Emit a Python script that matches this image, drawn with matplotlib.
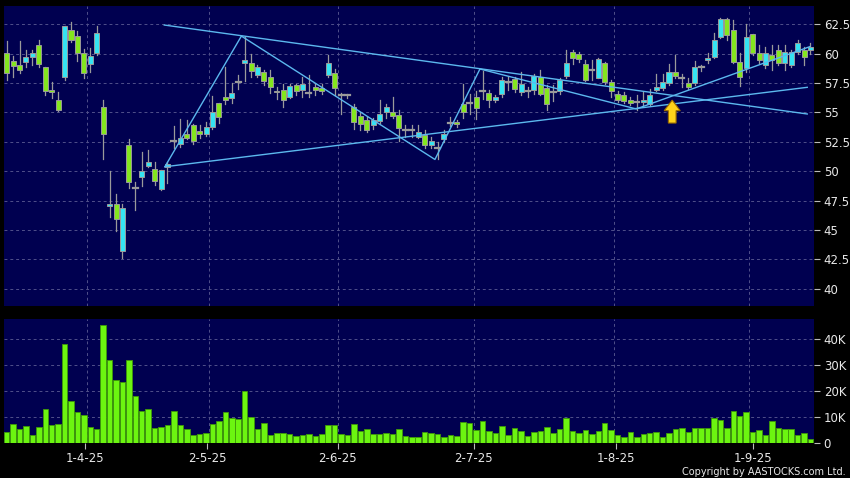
import numpy as np
import matplotlib
matplotlib.use('Agg')
import matplotlib.pyplot as plt
from matplotlib.patches import Rectangle, Polygon

# daily candles (index 0 = first day shown)
opens = [60.1, 59.35, 59.0, 59.3, 59.7, 60.7, 58.85, 56.9, 56.1, 58.05,
         62.0, 61.5, 60.05, 59.1, 60.05, 55.5, 47.0, 47.2, 43.2, 52.25,
         48.55, 49.5, 50.45, 50.15, 48.5, 50.35, 52.6, 52.3, 53.15, 53.9,
         53.45, 53.2, 53.8, 55.8, 56.35, 56.2, 57.55, 59.25, 59.2, 58.15,
         58.45, 58.0, 56.85, 56.95, 56.35, 57.3, 56.9, 56.65, 57.15, 57.1,
         58.15, 58.4, 56.45, 56.45, 55.45, 54.7, 54.35, 53.9, 54.25, 55.0,
         55.0, 54.8, 53.5, 53.5, 52.95, 53.05, 52.25, 51.95, 52.7, 54.1,
         54.15, 55.75, 55.8, 56.3, 56.8, 56.65, 56.05, 56.55, 57.6, 57.85,
         56.7, 56.8, 56.9, 58.0, 57.1, 56.75, 56.8, 58.1, 60.15, 60.0,
         59.15, 58.6, 57.95, 59.25, 57.55, 56.6, 56.5, 56.05, 55.9, 55.85,
         55.75, 56.95, 57.1, 57.5, 58.45, 57.9, 57.5, 57.5, 58.9, 59.45,
         59.75, 61.45, 62.95, 62.0, 59.3, 58.75, 61.65, 60.05, 59.05, 59.85,
         60.3, 59.2, 59.05, 60.15, 60.3, 60.35]
highs = [61.1, 59.8, 61.1, 60.3, 60.3, 61.2, 58.9, 57.6, 56.7, 62.4,
         62.7, 61.9, 60.4, 60.45, 62.4, 56.05, 50.0, 48.05, 47.2, 52.7,
         49.05, 51.65, 51.8, 50.8, 50.1, 50.8, 53.85, 54.45, 54.4, 54.0,
         53.95, 54.2, 56.4, 55.8, 58.85, 57.5, 58.2, 61.45, 60.0, 59.05,
         58.6, 58.6, 57.15, 57.45, 57.45, 57.45, 58.0, 58.15, 57.45, 57.45,
         59.85, 58.7, 56.65, 56.6, 55.75, 55.05, 54.6, 54.55, 56.1, 55.75,
         56.3, 55.2, 53.9, 53.9, 53.9, 53.5, 52.9, 52.5, 53.55, 54.65,
         54.4, 57.4, 56.6, 56.8, 58.5, 56.9, 56.45, 58.0, 58.0, 58.0,
         58.45, 57.15, 58.3, 58.65, 57.3, 57.3, 57.9, 60.3, 60.3, 60.15,
         59.45, 59.45, 59.6, 59.3, 57.75, 56.8, 56.75, 56.3, 56.45, 56.75,
         57.0, 58.3, 58.3, 59.15, 59.85, 58.3, 57.9, 59.4, 59.0, 60.1,
         61.8, 63.05, 63.0, 62.9, 60.05, 62.5, 61.7, 60.75, 60.6, 60.75,
         60.75, 60.75, 60.3, 61.2, 60.6, 60.9]
lows = [57.8, 58.05, 58.4, 58.9, 59.05, 58.9, 56.5, 56.2, 55.15, 57.8,
        61.0, 59.4, 57.9, 58.45, 59.9, 51.0, 46.1, 44.95, 42.6, 48.55,
        46.7, 48.7, 50.4, 48.85, 48.4, 49.0, 52.0, 52.1, 52.7, 52.35,
        52.8, 53.0, 53.6, 54.1, 55.7, 55.8, 57.0, 57.7, 58.05, 58.0,
        57.35, 56.65, 56.15, 55.5, 56.2, 56.45, 56.3, 56.3, 56.45, 56.6,
        58.0, 56.45, 54.9, 56.25, 53.6, 53.5, 53.35, 53.6, 54.1, 54.55,
        54.5, 52.6, 52.95, 52.95, 52.8, 51.95, 51.95, 51.05, 52.5, 53.85,
        53.8, 54.55, 54.9, 54.45, 56.15, 55.45, 55.9, 56.3, 56.9, 56.75,
        56.45, 56.3, 56.6, 56.45, 55.2, 56.0, 56.6, 57.9, 59.15, 59.3,
        57.65, 57.75, 57.9, 57.4, 56.3, 55.9, 55.8, 55.6, 55.25, 55.6,
        55.6, 56.8, 56.9, 57.3, 57.9, 57.2, 57.0, 57.3, 58.5, 59.2,
        59.6, 61.3, 61.2, 59.2, 57.25, 58.45, 59.9, 59.2, 58.8, 58.65,
        59.0, 58.6, 58.9, 60.0, 59.05, 60.0]
closes = [58.4, 58.95, 58.65, 59.7, 60.1, 59.1, 56.85, 56.7, 55.25, 62.35,
          61.2, 60.05, 58.4, 59.8, 61.8, 53.15, 47.2, 45.95, 46.85, 49.05,
          48.5, 50.0, 50.8, 49.2, 50.1, 50.6, 52.6, 52.8, 52.85, 52.6,
          53.2, 53.8, 55.05, 54.65, 56.1, 56.65, 57.55, 59.5, 58.55, 58.85,
          57.7, 57.15, 56.7, 56.1, 57.25, 56.85, 57.45, 56.65, 56.95, 56.8,
          59.25, 57.1, 56.4, 56.45, 54.15, 54.05, 53.5, 54.35, 54.9, 55.5,
          54.7, 53.65, 53.5, 53.5, 53.35, 52.25, 52.6, 51.95, 53.15, 54.1,
          54.0, 55.0, 55.8, 55.4, 56.8, 56.05, 56.3, 57.75, 57.6, 57.0,
          57.45, 56.8, 58.1, 56.6, 55.7, 56.75, 57.75, 59.25, 59.65, 59.55,
          57.8, 58.6, 59.55, 57.6, 56.8, 56.05, 55.95, 55.8, 55.9, 56.05,
          56.5, 57.2, 57.6, 58.45, 58.1, 57.9, 57.2, 58.9, 58.9, 59.65,
          61.2, 62.95, 61.6, 59.3, 58.05, 61.45, 60.05, 59.5, 60.05, 59.5,
          59.2, 60.15, 60.15, 60.9, 59.75, 60.6]
# volume in thousands of shares
volume_k = [4.5, 7.4, 5.6, 6.8, 3.2, 6.1, 13.0, 7.0, 7.5, 38.1,
            16.2, 12.1, 11.0, 6.4, 5.5, 45.4, 31.8, 24.4, 23.5, 31.9,
            18.0, 12.4, 13.2, 6.0, 6.4, 7.0, 12.4, 6.9, 5.4, 3.1,
            3.6, 4.0, 7.4, 8.4, 12.0, 9.7, 9.3, 20.1, 10.0, 5.4,
            7.8, 3.2, 3.8, 4.0, 3.7, 2.9, 3.1, 3.5, 2.7, 3.6,
            7.2, 7.2, 3.6, 3.2, 7.3, 4.6, 5.4, 3.6, 3.6, 4.1,
            3.7, 5.6, 2.9, 2.6, 2.3, 4.2, 3.8, 3.5, 2.3, 3.2,
            2.8, 8.1, 7.9, 5.1, 8.4, 4.6, 4.1, 6.5, 3.1, 6.0,
            4.7, 2.9, 4.5, 4.6, 6.1, 4.1, 5.6, 9.6, 4.9, 3.8,
            5.1, 3.5, 4.6, 7.7, 5.1, 3.2, 2.6, 4.5, 2.3, 3.6,
            4.1, 4.2, 2.6, 4.1, 5.5, 5.9, 4.3, 5.8, 5.8, 6.0,
            9.6, 8.9, 5.8, 12.5, 10.5, 11.9, 4.2, 5.0, 3.2, 8.6,
            6.0, 5.4, 5.4, 3.1, 3.8, 1.8]

date_labels = ['1-4-25', '2-5-25', '2-6-25', '2-7-25', '1-8-25', '1-9-25']
date_ticks = [12.1, 31.2, 51.5, 72.6, 94.8, 116.1]
month_grid = [12.5, 31.5, 51.6, 72.6, 94.5, 115.5]

price_ticks = [40, 42.5, 45, 47.5, 50, 52.5, 55, 57.5, 60, 62.5]
vol_ticks = [0, 10, 20, 30, 40]

# drawn trend lines as (day index, price)
upper_line = ([24.5, 124.5], [62.44, 54.87])
lower_line = ([24.6, 124.5], [50.38, 57.14])
zigzag = ([24.6, 36.5, 66.6, 73.6, 97.9, 124.9], [50.38, 61.5, 51.0, 58.7, 55.3, 60.6])
# signal arrow: day index, base price, tip price
arrow_day, arrow_base, arrow_tip = 103.5, 54.1, 56.05

BG = '#000050'
GRID = '#50508a'
UP = '#35e3f2'
DOWN = '#84e61e'
EDGE = '#9a9a9a'
LINE = '#5cb8ee'
TXT = '#e8e8e8'

fig = plt.figure(figsize=(8.5, 4.78), dpi=100, facecolor='black')
ax = fig.add_axes([4 / 850, 172 / 478, 810 / 850, 300 / 478], facecolor=BG)
axv = fig.add_axes([4 / 850, 34.7 / 478, 810 / 850, 124.3 / 478], facecolor=BG)

n = len(opens)
idx = np.arange(n)
bw = 0.78

# candles
for i in range(n):
    o, h, l, c = opens[i], highs[i], lows[i], closes[i]
    ax.plot([i, i], [l, h], color=EDGE, lw=0.9, zorder=2)
    if abs(c - o) < 0.08:
        ax.plot([i - bw / 2, i + bw / 2], [o, o], color=EDGE, lw=1.6, zorder=3)
    else:
        col = UP if c > o else DOWN
        ax.add_patch(Rectangle((i - bw / 2, min(o, c)), bw, abs(c - o),
                               facecolor=col, edgecolor=EDGE, lw=0.7, zorder=3))

# trend lines
for xs, ys in (upper_line, lower_line, zigzag):
    ax.plot(xs, ys, color=LINE, lw=1.0, zorder=4)

# arrow
hw, sw, hl = 1.25, 0.6, 0.9
ax.add_patch(Polygon([[arrow_day - sw, arrow_base], [arrow_day + sw, arrow_base],
                      [arrow_day + sw, arrow_tip - hl], [arrow_day + hw, arrow_tip - hl],
                      [arrow_day, arrow_tip], [arrow_day - hw, arrow_tip - hl],
                      [arrow_day - sw, arrow_tip - hl]],
                     closed=True, facecolor='#ffd21a', edgecolor='#9c6c00', lw=0.8, zorder=5))

# volume bars
axv.bar(idx, volume_k, width=0.86, color='#6cf510', edgecolor='#3f9a08', lw=0.6, zorder=3)

for a in (ax, axv):
    a.set_xlim(-0.42, 125.55)
    for x in month_grid:
        a.axvline(x, color=GRID, lw=0.7, ls=(0, (3, 3)), zorder=1)
    for s in a.spines.values():
        s.set_visible(False)
    a.yaxis.tick_right()
    a.tick_params(axis='y', colors='#bbbbbb', labelcolor=TXT, length=4, width=0.8,
                  labelsize=8.5, pad=3)

ax.set_ylim(38.53, 64.06)
ax.set_yticks(price_ticks)
ax.set_yticklabels(['40', '42.5', '45', '47.5', '50', '52.5', '55', '57.5', '60', '62.5'])
for y in price_ticks:
    ax.axhline(y, color=GRID, lw=0.7, ls=(0, (3, 3)), zorder=1)
ax.set_xticks([])

axv.set_ylim(0, 47.7)
axv.set_yticks(vol_ticks)
axv.set_yticklabels(['0', '10K', '20K', '30K', '40K'])
for y in vol_ticks[1:]:
    axv.axhline(y, color=GRID, lw=0.7, ls=(0, (3, 3)), zorder=1)
axv.set_xticks(date_ticks)
axv.set_xticklabels(date_labels)
axv.tick_params(axis='x', colors='#bbbbbb', labelcolor=TXT, length=4, width=0.8,
                labelsize=8.5, pad=2)

fig.text(0.995, 0.002, 'Copyright by AASTOCKS.com Ltd.', color=TXT, fontsize=7,
         ha='right', va='bottom')

fig.savefig('out.png', dpi=100, facecolor='black')
